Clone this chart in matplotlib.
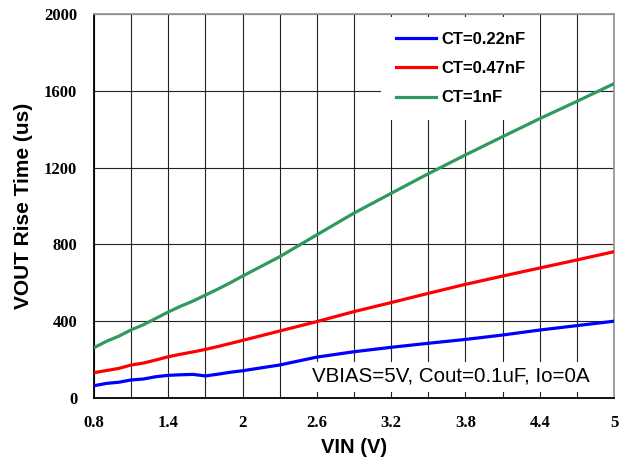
import numpy as np
import matplotlib
matplotlib.use("Agg")
from matplotlib import pyplot as plt
from matplotlib.patches import Rectangle

# VIN (V)
vin = [0.8, 0.9, 1.0, 1.1, 1.2, 1.3, 1.4, 1.5, 1.6, 1.7, 1.8, 1.9, 2.0,
       2.3, 2.6, 2.9, 3.2, 3.5, 3.8, 4.1, 4.4, 4.7, 5.0]

# rise time (us)
ct_022 = [64, 76, 82, 94, 99, 111, 118, 121, 123, 115, 124, 134, 142,
          172, 213, 241, 264, 285, 305, 328, 354, 377, 400]
ct_047 = [132, 143, 154, 172, 182, 198, 215, 228, 240, 253, 268, 284, 300,
          349, 398, 450, 497, 545, 592, 635, 677, 719, 762]
ct_1 = [262, 295, 322, 355, 382, 415, 448, 478, 505, 536, 567, 600, 635,
        736, 850, 963, 1066, 1168, 1266, 1361, 1455, 1545, 1637]

labels = ["CT=0.22nF", "CT=0.47nF", "CT=1nF"]
colors = ["#0000ff", "#ff0000", "#2e9a5e"]

x_major = [0.8, 1.4, 2.0, 2.6, 3.2, 3.8, 4.4, 5.0]
x_major_lbl = ["0.8", "1.4", "2", "2.6", "3.2", "3.8", "4.4", "5"]
y_major = [0, 400, 800, 1200, 1600, 2000]

fig = plt.figure(figsize=(6.27, 4.67), dpi=100)
ax = fig.add_axes([94 / 627, 69 / 467, 520 / 627, 384 / 467])

for y, lbl, c in zip([ct_022, ct_047, ct_1], labels, colors):
    ax.plot(vin, y, color=c, lw=2.3, label=lbl, zorder=4)

ax.set_xlim(0.8, 5.0)
ax.set_ylim(0, 2000)
ax.set_xticks(x_major)
ax.set_xticklabels(x_major_lbl)
ax.set_xticks(np.arange(0.8, 5.01, 0.3), minor=True)
ax.set_yticks(y_major)
ax.grid(True, which="both", color="#222222", lw=0.8, zorder=1)
ax.tick_params(which="both", length=0)
ax.tick_params(axis="x", pad=12)
ax.tick_params(axis="y", pad=12)
for t in ax.get_xticklabels() + ax.get_yticklabels():
    t.set_family("Liberation Serif")
    t.set_fontweight("bold")
    t.set_fontsize(12)

for s in ["left", "bottom"]:
    ax.spines[s].set_color("black")
    ax.spines[s].set_linewidth(1.3)
for s in ["top", "right"]:
    ax.spines[s].set_color("#999999")
    ax.spines[s].set_linewidth(1.3)

ax.set_xlabel("VIN (V)", family="Liberation Sans", fontweight="bold", fontsize=14.5, labelpad=5)
ax.set_ylabel("VOUT Rise Time (us)", family="Liberation Sans", fontweight="bold", fontsize=15, labelpad=8)

leg = ax.legend(loc="upper left", bbox_to_anchor=(0.552, 0.992), borderaxespad=0,
                handlelength=2.4, handletextpad=0.3, labelspacing=0.85,
                prop={"family": "Liberation Sans", "weight": "bold", "size": 12},
                fancybox=False, framealpha=1, edgecolor="none", borderpad=0.9)
leg.set_zorder(3)

# white box behind the note
ax.add_patch(Rectangle((0.396, 0.016), 0.6, 0.078, transform=ax.transAxes,
                       facecolor="white", edgecolor="none", zorder=3))
ax.text(0.42, 0.057, "VBIAS=5V, Cout=0.1uF, Io=0A", transform=ax.transAxes,
        family="Liberation Sans", fontsize=14.8, va="center", ha="left", zorder=5)

fig.savefig("out.png", dpi=100)
